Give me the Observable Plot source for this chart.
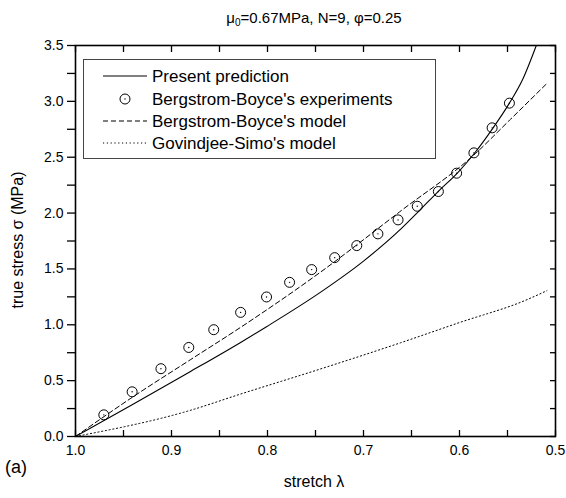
<!DOCTYPE html>
<html>
<head>
<meta charset="utf-8">
<script src="https://cdn.jsdelivr.net/npm/d3@7"></script>
<script src="https://cdn.jsdelivr.net/npm/@observablehq/plot@0.6"></script>
<style>
  html, body { margin: 0; padding: 0; background: #fff; }
  #wrap { position: relative; width: 566px; height: 498px; font-family: "Liberation Sans", Arial, Helvetica, sans-serif; color: #000; }
  #wrap svg { display: block; }
  .lbl { position: absolute; white-space: nowrap; line-height: 1; }
  #title { left: 0; width: 628px; text-align: center; top: 10px; font-size: 15px; }
  #title sub { font-size: 10px; vertical-align: -3px; line-height: 0; }
  #xlab { left: 0; width: 628px; text-align: center; top: 474px; font-size: 16px; }
  #ylab { left: 18px; top: 240px; font-size: 16px; transform: translate(-50%, -50%) rotate(-90deg); }
  #panel { left: 5px; top: 458px; font-size: 18px; }
  #legend { position: absolute; left: 0; top: 0; pointer-events: none; }
</style>
</head>
<body>
<div id="wrap">
  <div id="title" class="lbl">μ<sub>0</sub>=0.67MPa, N=9, φ=0.25</div>
  <div id="xlab" class="lbl">stretch λ</div>
  <div id="ylab" class="lbl">true stress σ (MPa)</div>
  <div id="panel" class="lbl">(a)</div>
</div>
<script>
// ---- data ----
const lambdaExp = [0.9705, 0.941, 0.911, 0.882, 0.856, 0.828, 0.801, 0.777, 0.754, 0.730, 0.707, 0.685, 0.664, 0.644, 0.622, 0.603, 0.585, 0.566, 0.548];
const sigmaExp  = [0.194, 0.400, 0.607, 0.797, 0.956, 1.111, 1.249, 1.380, 1.494, 1.601, 1.709, 1.814, 1.939, 2.061, 2.193, 2.357, 2.539, 2.763, 2.984];

const lambdaPred = [1.0, 0.941, 0.882, 0.828, 0.801, 0.745, 0.700, 0.661, 0.642, 0.622, 0.602, 0.584, 0.565, 0.548, 0.534, 0.520];
const sigmaPred  = [0.0, 0.284, 0.573, 0.842, 0.983, 1.290, 1.570, 1.858, 2.020, 2.195, 2.360, 2.540, 2.763, 2.984, 3.200, 3.500];

const lambdaBB = [1.0, 0.941, 0.882, 0.828, 0.745, 0.661, 0.585, 0.548, 0.509];
const sigmaBB  = [0.0, 0.350, 0.678, 0.977, 1.470, 2.020, 2.520, 2.830, 3.160];

const lambdaGS = [1.0, 0.882, 0.828, 0.745, 0.661, 0.600, 0.531, 0.509];
const sigmaGS  = [0.0, 0.230, 0.380, 0.604, 0.840, 1.020, 1.220, 1.305];

const xTickLabels = [1.0, 0.9, 0.8, 0.7, 0.6, 0.5];
const xTicksAll = [1.0, 0.95, 0.9, 0.85, 0.8, 0.75, 0.7, 0.65, 0.6, 0.55, 0.5];
const yTickLabels = [0.0, 0.5, 1.0, 1.5, 2.0, 2.5, 3.0, 3.5];
const yTicksAll = [0, 0.25, 0.5, 0.75, 1, 1.25, 1.5, 1.75, 2, 2.25, 2.5, 2.75, 3, 3.25, 3.5];

const seriesNames = ["Present prediction", "Bergstrom-Boyce's experiments", "Bergstrom-Boyce's model", "Govindjee-Simo's model"];

// ---- tables ----
const exp = lambdaExp.map((l, i) => ({l, s: sigmaExp[i]}));
const pred = lambdaPred.map((l, i) => ({l, s: sigmaPred[i]}));
const bb = lambdaBB.map((l, i) => ({l, s: sigmaBB[i]}));
const gs = lambdaGS.map((l, i) => ({l, s: sigmaGS[i]}));

const fmt = d3.format(".1f");
const blank = () => "";

const chart = Plot.plot({
  width: 566,
  height: 498,
  marginTop: 45,
  marginRight: 11,
  marginBottom: 62,
  marginLeft: 75,
  style: {fontFamily: '"Liberation Sans", Arial, Helvetica, sans-serif', fontSize: "14px", color: "#000", background: "transparent"},
  x: {domain: [1.0, 0.5]},
  y: {domain: [0, 3.5]},
  marks: [
    Plot.line(gs, {x: "l", y: "s", stroke: "#000", strokeWidth: 1, strokeDasharray: "1.2,2.6", curve: "monotone-x"}),
    Plot.line(bb, {x: "l", y: "s", stroke: "#000", strokeWidth: 1, strokeDasharray: "5,3", curve: "monotone-x"}),
    Plot.line(pred, {x: "l", y: "s", stroke: "#000", strokeWidth: 1.1, curve: "monotone-x", clip: true}),
    Plot.dot(exp, {x: "l", y: "s", r: 5, stroke: "#000", strokeWidth: 1, fill: "none"}),
    Plot.dot(exp, {x: "l", y: "s", r: 0.7, fill: "#000", stroke: "none"}),
    // ticks (inward on bottom/top/right, outward on left)
    Plot.axisX({anchor: "bottom", ticks: xTicksAll, tickSize: 6, dy: -6, tickFormat: blank, label: null, strokeWidth: 1.3}),
    Plot.axisX({anchor: "top", ticks: xTicksAll, tickSize: 6, dy: 6, tickFormat: blank, label: null, strokeWidth: 1.3}),
    Plot.axisY({anchor: "right", ticks: yTicksAll, tickSize: 6, dx: -6, tickFormat: blank, label: null, strokeWidth: 1.3}),
    Plot.axisY({anchor: "left", ticks: yTicksAll, tickSize: 8, tickFormat: blank, label: null, strokeWidth: 1.3}),
    // labels
    Plot.axisX({anchor: "bottom", ticks: xTickLabels, tickSize: 0, tickPadding: 9, tickFormat: fmt, label: null, fontSize: 14}),
    Plot.axisY({anchor: "left", ticks: yTickLabels, tickSize: 0, tickPadding: 12, tickFormat: fmt, label: null, fontSize: 14}),
    Plot.frame({stroke: "#000", strokeWidth: 1.6})
  ]
});
const wrap = document.getElementById("wrap");
wrap.insertBefore(chart, wrap.firstChild);

// ---- legend ----
const lg = d3.select(wrap).append("svg").attr("id", "legend").attr("width", 566).attr("height", 498);
lg.append("rect").attr("x", 83.5).attr("y", 59.5).attr("width", 352).attr("height", 99)
  .attr("fill", "#fff").attr("stroke", "#444").attr("stroke-width", 1);
const rowY = [76, 99, 121, 143];
const styles = [{dash: null}, {circle: true}, {dash: "5,3"}, {dash: "1.2,2.6"}];
seriesNames.forEach((name, i) => {
  const y = rowY[i];
  const st = styles[i];
  if (st.circle) {
    lg.append("circle").attr("cx", 125).attr("cy", y).attr("r", 5).attr("fill", "none").attr("stroke", "#000");
    lg.append("circle").attr("cx", 125).attr("cy", y).attr("r", 0.7).attr("fill", "#000");
  } else {
    lg.append("line").attr("x1", 103).attr("x2", 147).attr("y1", y).attr("y2", y)
      .attr("stroke", "#000").attr("stroke-width", 1).attr("stroke-dasharray", st.dash);
  }
  lg.append("text").attr("x", 152).attr("y", y).attr("dy", "0.36em")
    .attr("font-family", '"Liberation Sans", Arial, sans-serif').attr("font-size", 17).text(name);
});
</script>
</body>
</html>
